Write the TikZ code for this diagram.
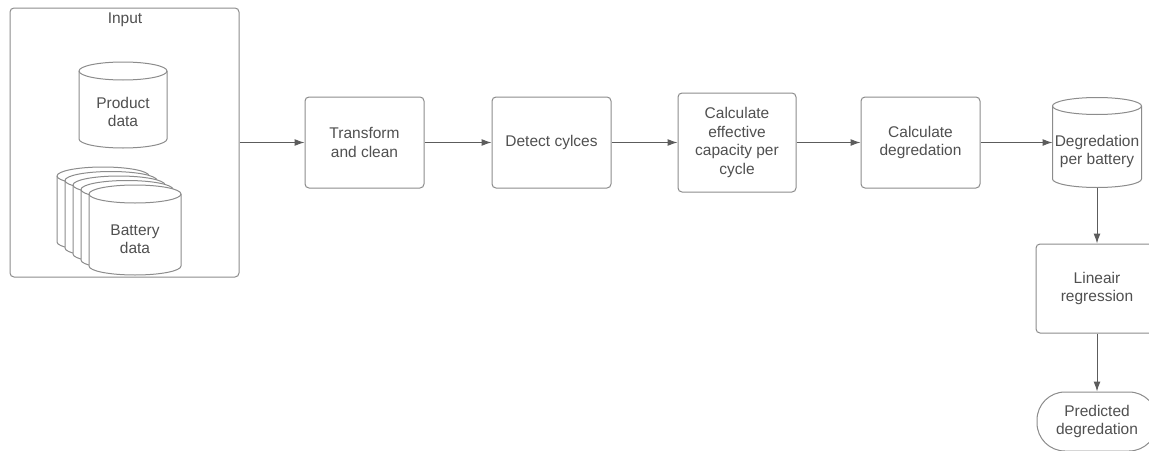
\documentclass[tikz,border=0pt]{standalone}
\usepackage{fontspec}
\setmainfont{Liberation Sans}
\usetikzlibrary{arrows.meta}
\definecolor{ln}{HTML}{8C8C8C}
\definecolor{ar}{HTML}{5C5C5C}
\definecolor{tx}{HTML}{505050}
\newcommand{\drawcyl}[5]{%
  \pgfmathsetmacro\cylrx{(#2-#1)/2}%
  \filldraw[fill=white,draw=ln,line width=1pt] (#1,-#3-#5) -- (#1,-#4+#5)
    arc[start angle=180,end angle=360,x radius=\cylrx pt,y radius=#5 pt]
    -- (#2,-#3-#5)
    arc[start angle=0,end angle=180,x radius=\cylrx pt,y radius=#5 pt] -- cycle;
  \draw[ln,line width=1pt] (#1,-#3-#5) arc[start angle=180,end angle=360,x radius=\cylrx pt,y radius=#5 pt];
}
\begin{document}
\begin{tikzpicture}[x=1pt,y=1pt,
  txt/.style={align=center,text=tx,font=\fontsize{15.5}{18.5}\selectfont,inner sep=0pt},
  procbox/.style={draw=ln,line width=1pt,rounded corners=4pt,fill=white,align=center,text=tx,
     font=\fontsize{15.5}{18.5}\selectfont,inner sep=0pt},
  ghost/.style={inner sep=0pt,outer sep=0pt},
  flow/.style={draw=ar,line width=1pt,-{Latex[length=10pt,width=7pt]}}]
\useasboundingbox (0,0) rectangle (1149,-450);
\fill[white] (0,0) rectangle (1149,-450);

% Input container
\node[procbox,minimum width=229,minimum height=269] (input) at (124.5,-142.5) {};
\node[txt] (inputlbl) at (125,-20) {Input};

% Product data cylinder
\drawcyl{79}{167}{62}{148}{9}
\node[ghost,minimum width=88,minimum height=86] (prod) at (123,-105) {};
\node[txt] (prodtxt) at (123,-112) {Product\\data};

% Battery data stack
\drawcyl{57}{149}{167}{251}{9}
\drawcyl{65}{157}{171.5}{257}{9}
\drawcyl{73}{165}{176}{263}{9}
\drawcyl{81}{173}{180.5}{269}{9}
\drawcyl{89}{181}{185}{275}{9}
\node[ghost,minimum width=92,minimum height=90] (batt) at (135,-230) {};
\node[txt] (batttxt) at (135,-239) {Battery\\data};

% Process boxes
\node[procbox,minimum width=119,minimum height=91] (transform) at (364.5,-142.5) {Transform\\and clean};
\node[procbox,minimum width=119,minimum height=91] (detect) at (551.5,-142.5) {Detect cylces};
\node[procbox,minimum width=118,minimum height=99] (calceff) at (737,-142.5) {Calculate\\effective\\capacity per\\cycle};
\node[procbox,minimum width=119,minimum height=91] (calcdeg) at (920.5,-142.5) {Calculate\\degredation};

% Degradation per battery cylinder
\drawcyl{1052.5}{1141.5}{97.5}{187.5}{8.5}
\node[ghost,minimum width=89,minimum height=90] (degcyl) at (1097,-142.5) {};
\node[txt] (degtxt) at (1097,-151.5) {Degredation\\per battery};

% Linear regression and prediction
\node[procbox,minimum width=122,minimum height=89] (lin) at (1097,-288.5) {Lineair\\regression};
\node[procbox,rounded corners=28pt,minimum width=120,minimum height=59] (pred) at (1097,-421.5) {Predicted\\degredation};

% Connectors
\draw[flow] (input.east) -- (transform.west);
\draw[flow] (transform.east) -- (detect.west);
\draw[flow] (detect.east) -- (calceff.west);
\draw[flow] (calceff.east) -- (calcdeg.west);
\draw[flow] (calcdeg.east) -- (degcyl.west);
\draw[flow] (degcyl.south) -- (lin.north);
\draw[flow] (lin.south) -- (pred.north);
\end{tikzpicture}
\end{document}
